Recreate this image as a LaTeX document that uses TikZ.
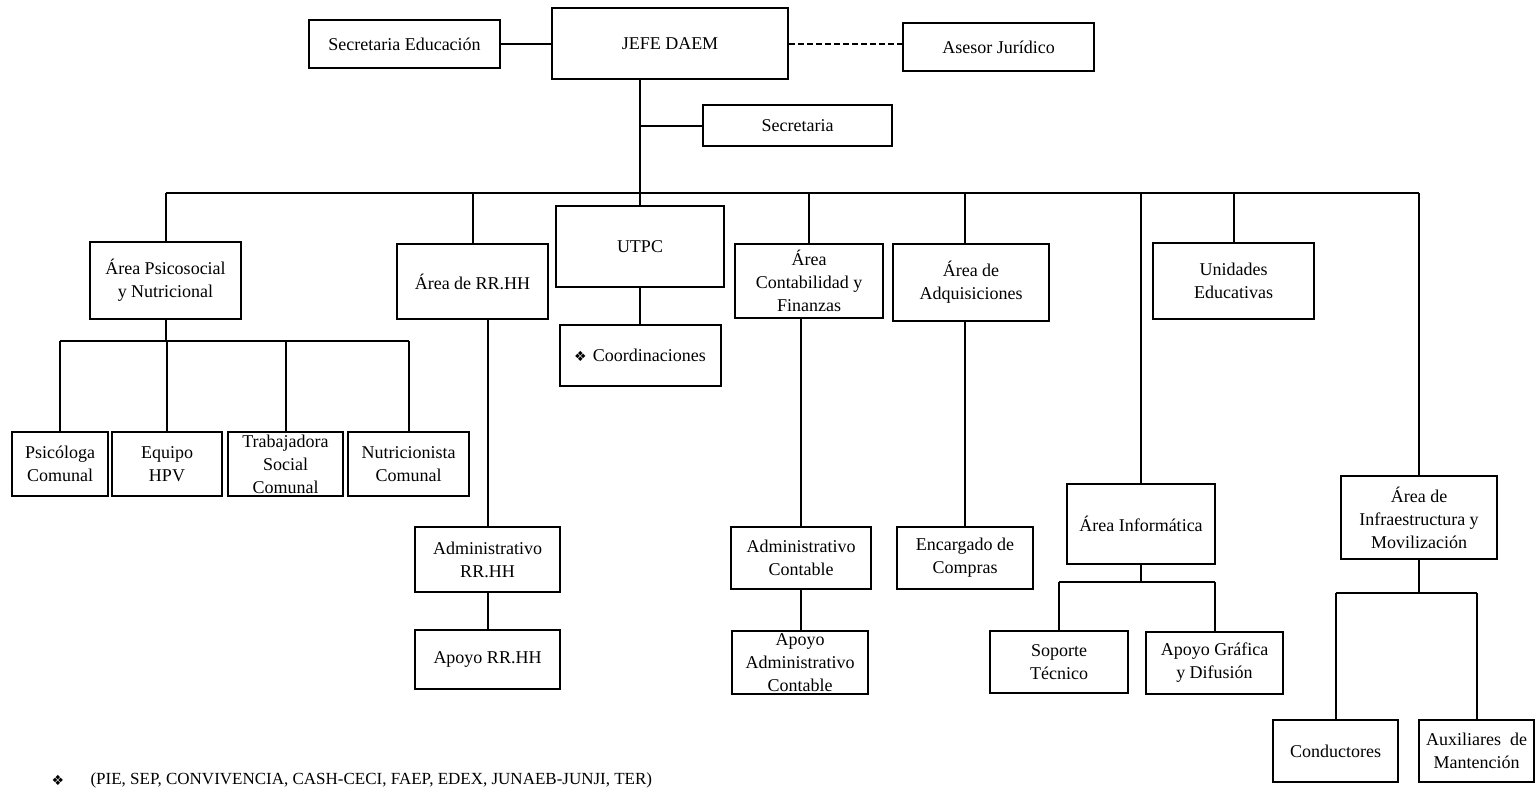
\documentclass[tikz,border=0pt]{standalone}
\usepackage{fontspec}
\setmainfont{Liberation Serif}
\newfontfamily\dejavu{DejaVu Sans}
\newcommand{\orgmark}{{\dejavu\fontsize{14}{16}\selectfont ❖}}

\begin{document}
\begin{tikzpicture}[x=1pt, y=-1pt, font=\fontsize{18}{23}\selectfont]
	\tikzstyle{unit}=[draw, line width=2pt, align=center, inner sep=0pt]
	\tikzstyle{link}=[line width=2pt]
	\useasboundingbox (0,0) rectangle (1535,788);
	% top level
	\node[unit, minimum width=236pt, minimum height=71pt] (jefe) at (670,43.5) {JEFE DAEM};
	\node[unit, minimum width=191pt, minimum height=48pt] (secedu) at (404.5,44) {Secretaria Educación};
	\node[unit, minimum width=191pt, minimum height=48pt] (asesor) at (998.5,47) {Asesor Jurídico};
	\node[unit, minimum width=189pt, minimum height=41pt] (secre) at (797.5,125.5) {Secretaria};
	% areas
	\node[unit, minimum width=151pt, minimum height=77pt] (psico) at (165.5,280.5) {Área Psicosocial\\y Nutricional};
	\node[unit, minimum width=151pt, minimum height=75pt] (rrhh) at (472.5,281.5) {Área de RR.HH};
	\node[unit, minimum width=168pt, minimum height=81pt] (utpc) at (640,246.5) {UTPC};
	\node[unit, minimum width=161pt, minimum height=61pt] (coord) at (640,355.5) {\orgmark\hspace{6pt}Coordinaciones};
	\node[unit, minimum width=148pt, minimum height=74pt] (contab) at (809,281) {Área\\Contabilidad y\\Finanzas};
	\node[unit, minimum width=156pt, minimum height=77pt] (adq) at (971,282.5) {Área de\\Adquisiciones};
	\node[unit, minimum width=161pt, minimum height=76pt] (unid) at (1233.5,281) {Unidades\\Educativas};
	\node[unit, minimum width=148pt, minimum height=80pt] (info) at (1141,524) {Área Informática};
	\node[unit, minimum width=156pt, minimum height=83pt] (infra) at (1419,517.5) {Área de\\Infraestructura y\\Movilización};
	% psicosocial
	\node[unit, minimum width=96pt, minimum height=64pt] (psicologa) at (60,464) {Psicóloga\\Comunal};
	\node[unit, minimum width=110pt, minimum height=64pt] (equipo) at (167,464) {Equipo\\HPV};
	\node[unit, minimum width=115pt, minimum height=64pt] (trabajadora) at (285.5,464) {Trabajadora\\Social\\Comunal};
	\node[unit, minimum width=121pt, minimum height=64pt] (nutri) at (408.5,464) {Nutricionista\\Comunal};
	% lower units
	\node[unit, minimum width=145pt, minimum height=65pt] (admrrhh) at (487.5,559.5) {Administrativo\\RR.HH};
	\node[unit, minimum width=145pt, minimum height=59pt] (apoyorrhh) at (487.5,659.5) {Apoyo RR.HH};
	\node[unit, minimum width=140pt, minimum height=62pt] (admcont) at (801,558) {Administrativo\\Contable};
	\node[unit, minimum width=136pt, minimum height=63pt] (apoyocont) at (800,662.5) {Apoyo\\Administrativo\\Contable};
	\node[unit, minimum width=136pt, minimum height=62pt] (encargado) at (965,558) {Encargado de\\Compras};
	\node[unit, minimum width=138pt, minimum height=62pt] (soporte) at (1059,662) {Soporte\\Técnico};
	\node[unit, minimum width=137pt, minimum height=62pt] (grafica) at (1214.5,663) {Apoyo Gráfica\\y Difusión};
	\node[unit, minimum width=125pt, minimum height=62pt] (conductores) at (1335.5,751) {Conductores};
	\node[unit, minimum width=115pt, minimum height=62pt] (auxiliares) at (1476.5,751) {Auxiliares~~de\\Mantención};
	% footnote
	\node (fnmark) at (58,780) {\orgmark};
	\node[anchor=west, font=\fontsize{17}{20}\selectfont] (fnote) at (87,780) {(PIE, SEP, CONVIVENCIA, CASH-CECI, FAEP, EDEX, JUNAEB-JUNJI, TER)};
	% connectors
	\coordinate (bus) at (0,193);
	\coordinate (psbus) at (0,341);
	\coordinate (infobus) at (0,582);
	\coordinate (infrabus) at (0,593);
	\draw[link] (secedu.east) -- (secedu.east -| jefe.west);
	\draw[link, dash pattern=on 6pt off 3pt] (jefe.east) -- (jefe.east -| asesor.west);
	\draw[link] (jefe.south -| utpc.north) -- (utpc.north);
	\draw[link] (secre.west -| utpc.north) -- (secre.west);
	\draw[link] (psico.north |- bus) -- (infra.north |- bus);
	\draw[link] (psico.north |- bus) -- (psico.north);
	\draw[link] (rrhh.north |- bus) -- (rrhh.north);
	\draw[link] (contab.north |- bus) -- (contab.north);
	\draw[link] (encargado.north |- bus) -- (encargado.north |- adq.north);
	\draw[link] (unid.north |- bus) -- (unid.north);
	\draw[link] (info.north |- bus) -- (info.north);
	\draw[link] (infra.north |- bus) -- (infra.north);
	\draw[link] (utpc.south) -- (coord.north);
	\draw[link] (psico.south) -- (psico.south |- psbus);
	\draw[link] (psicologa.north |- psbus) -- (nutri.north |- psbus);
	\draw[link] (psicologa.north |- psbus) -- (psicologa.north);
	\draw[link] (equipo.north |- psbus) -- (equipo.north);
	\draw[link] (trabajadora.north |- psbus) -- (trabajadora.north);
	\draw[link] (nutri.north |- psbus) -- (nutri.north);
	\draw[link] (admrrhh.north |- rrhh.south) -- (admrrhh.north);
	\draw[link] (admrrhh.south) -- (apoyorrhh.north);
	\draw[link] (admcont.north |- contab.south) -- (admcont.north);
	\draw[link] (admcont.south) -- (admcont.south |- apoyocont.north);
	\draw[link] (encargado.north |- adq.south) -- (encargado.north);
	\draw[link] (info.south) -- (info.south |- infobus);
	\draw[link] (soporte.north |- infobus) -- (grafica.north |- infobus);
	\draw[link] (soporte.north |- infobus) -- (soporte.north);
	\draw[link] (grafica.north |- infobus) -- (grafica.north);
	\draw[link] (infra.south) -- (infra.south |- infrabus);
	\draw[link] (conductores.north |- infrabus) -- (auxiliares.north |- infrabus);
	\draw[link] (conductores.north |- infrabus) -- (conductores.north);
	\draw[link] (auxiliares.north |- infrabus) -- (auxiliares.north);
\end{tikzpicture}
\end{document}
